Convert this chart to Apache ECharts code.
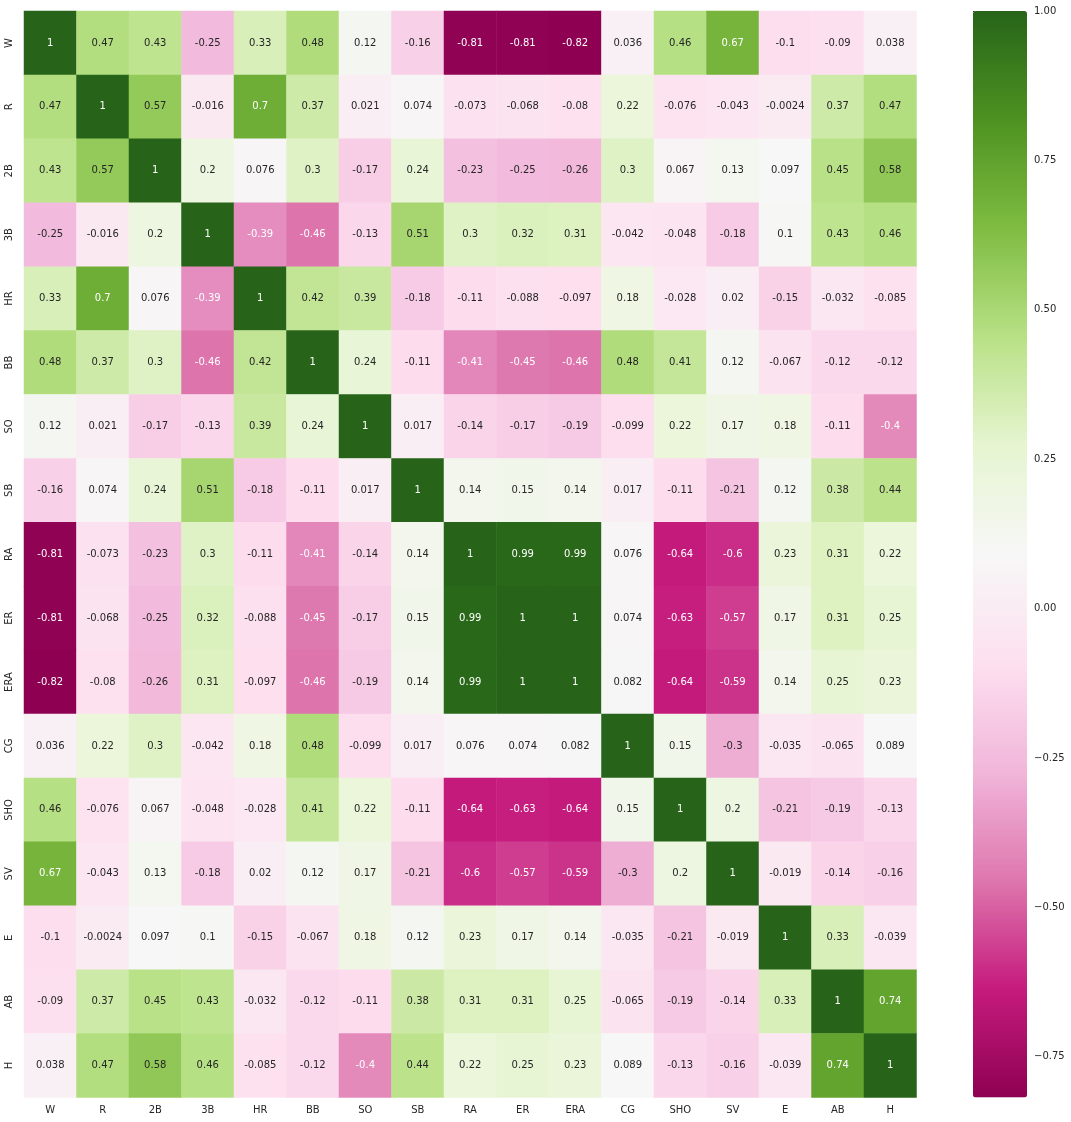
<!DOCTYPE html>
<html>
<head>
<meta charset="utf-8">
<script src="https://cdn.jsdelivr.net/npm/echarts@6/dist/echarts.min.js"></script>
<style>
html,body{margin:0;padding:0;background:#fff;}
#chart{width:1071px;height:1122px;}
</style>
</head>
<body>
<div id="chart"></div>
<script>
// ---- Data ----
var labels = ['W','R','2B','3B','HR','BB','SO','SB','RA','ER','ERA','CG','SHO','SV','E','AB','H'];
var rowW   = [1, 0.47, 0.43, -0.25, 0.33, 0.48, 0.12, -0.16, -0.81, -0.81, -0.82, 0.036, 0.46, 0.67, -0.1, -0.09, 0.038];
var rowR   = [0.47, 1, 0.57, -0.016, 0.7, 0.37, 0.021, 0.074, -0.073, -0.068, -0.08, 0.22, -0.076, -0.043, -0.0024, 0.37, 0.47];
var row2B  = [0.43, 0.57, 1, 0.2, 0.076, 0.3, -0.17, 0.24, -0.23, -0.25, -0.26, 0.3, 0.067, 0.13, 0.097, 0.45, 0.58];
var row3B  = [-0.25, -0.016, 0.2, 1, -0.39, -0.46, -0.13, 0.51, 0.3, 0.32, 0.31, -0.042, -0.048, -0.18, 0.1, 0.43, 0.46];
var rowHR  = [0.33, 0.7, 0.076, -0.39, 1, 0.42, 0.39, -0.18, -0.11, -0.088, -0.097, 0.18, -0.028, 0.02, -0.15, -0.032, -0.085];
var rowBB  = [0.48, 0.37, 0.3, -0.46, 0.42, 1, 0.24, -0.11, -0.41, -0.45, -0.46, 0.48, 0.41, 0.12, -0.067, -0.12, -0.12];
var rowSO  = [0.12, 0.021, -0.17, -0.13, 0.39, 0.24, 1, 0.017, -0.14, -0.17, -0.19, -0.099, 0.22, 0.17, 0.18, -0.11, -0.4];
var rowSB  = [-0.16, 0.074, 0.24, 0.51, -0.18, -0.11, 0.017, 1, 0.14, 0.15, 0.14, 0.017, -0.11, -0.21, 0.12, 0.38, 0.44];
var rowRA  = [-0.81, -0.073, -0.23, 0.3, -0.11, -0.41, -0.14, 0.14, 1, 0.99, 0.99, 0.076, -0.64, -0.6, 0.23, 0.31, 0.22];
var rowER  = [-0.81, -0.068, -0.25, 0.32, -0.088, -0.45, -0.17, 0.15, 0.99, 1, 1, 0.074, -0.63, -0.57, 0.17, 0.31, 0.25];
var rowERA = [-0.82, -0.08, -0.26, 0.31, -0.097, -0.46, -0.19, 0.14, 0.99, 1, 1, 0.082, -0.64, -0.59, 0.14, 0.25, 0.23];
var rowCG  = [0.036, 0.22, 0.3, -0.042, 0.18, 0.48, -0.099, 0.017, 0.076, 0.074, 0.082, 1, 0.15, -0.3, -0.035, -0.065, 0.089];
var rowSHO = [0.46, -0.076, 0.067, -0.048, -0.028, 0.41, 0.22, -0.11, -0.64, -0.63, -0.64, 0.15, 1, 0.2, -0.21, -0.19, -0.13];
var rowSV  = [0.67, -0.043, 0.13, -0.18, 0.02, 0.12, 0.17, -0.21, -0.6, -0.57, -0.59, -0.3, 0.2, 1, -0.019, -0.14, -0.16];
var rowE   = [-0.1, -0.0024, 0.097, 0.1, -0.15, -0.067, 0.18, 0.12, 0.23, 0.17, 0.14, -0.035, -0.21, -0.019, 1, 0.33, -0.039];
var rowAB  = [-0.09, 0.37, 0.45, 0.43, -0.032, -0.12, -0.11, 0.38, 0.31, 0.31, 0.25, -0.065, -0.19, -0.14, 0.33, 1, 0.74];
var rowH   = [0.038, 0.47, 0.58, 0.46, -0.085, -0.12, -0.4, 0.44, 0.22, 0.25, 0.23, 0.089, -0.13, -0.16, -0.039, 0.74, 1];
var colorbarTicks = [-0.75, -0.5, -0.25, 0, 0.25, 0.5, 0.75, 1];
var vMin = -0.818, vMax = 1;

var rows = [rowW,rowR,row2B,row3B,rowHR,rowBB,rowSO,rowSB,rowRA,rowER,rowERA,rowCG,rowSHO,rowSV,rowE,rowAB,rowH];

// PiYG colormap
var piyg = ['#8e0152','#c51b7d','#de77ae','#f1b6da','#fde0ef','#f7f7f7','#e6f5d0','#b8e186','#7fbc41','#4d9221','#276419'];
function hex2rgb(h){return [parseInt(h.substr(1,2),16),parseInt(h.substr(3,2),16),parseInt(h.substr(5,2),16)];}
function cmap(v){
  var t = (v - vMin)/(vMax - vMin); t = Math.max(0, Math.min(1, t));
  var p = t*(piyg.length-1), i = Math.min(Math.floor(p), piyg.length-2), f = p - i;
  var a = hex2rgb(piyg[i]), b = hex2rgb(piyg[i+1]);
  return [0,1,2].map(function(k){return a[k]+(b[k]-a[k])*f;});
}
function lum(rgb){
  var c = rgb.map(function(x){x/=255; return x<=0.03928? x/12.92 : Math.pow((x+0.055)/1.055,2.4);});
  return 0.2126*c[0]+0.7152*c[1]+0.0722*c[2];
}
function fmt(v){return String(Number(v.toPrecision(2)));}

var data = [];
rows.forEach(function(r, yi){
  r.forEach(function(v, xi){
    var tc = lum(cmap(v)) > 0.408 ? '#262626' : '#ffffff';
    data.push({value:[xi, yi, v], label:{color: tc}});
  });
});

var font = 'DejaVu Sans';
var chart = echarts.init(document.getElementById('chart'), null, {renderer:'canvas'});
chart.setOption({
  backgroundColor:'#ffffff',
  animation:false,
  textStyle:{fontFamily:font},
  grid:[
    {left:24, top:11, width:892.5, height:1086.5, containLabel:false},
    {left:973, top:11, width:54, height:1086.5, containLabel:false}
  ],
  xAxis:[
    {type:'category', data:labels, gridIndex:0, position:'bottom',
     axisLine:{show:false}, axisTick:{show:false}, splitLine:{show:false}, splitArea:{show:false},
     axisLabel:{fontSize:10, color:'#262626', fontFamily:font, margin:8, interval:0}},
    {type:'value', gridIndex:1, show:false, min:0, max:1}
  ],
  yAxis:[
    {type:'category', data:labels, gridIndex:0, inverse:true,
     axisLine:{show:false}, axisTick:{show:false}, splitLine:{show:false}, splitArea:{show:false},
     axisLabel:{fontSize:10, color:'#262626', fontFamily:font, rotate:90, margin:10, interval:0}},
    {type:'value', gridIndex:1, min:vMin, max:vMax, position:'right',
     axisLine:{show:false}, splitLine:{show:false},
     axisTick:{show:true, length:4, customValues:colorbarTicks, lineStyle:{color:'#262626', width:1}},
     axisLabel:{fontSize:10, color:'#262626', fontFamily:font, margin:7, customValues:colorbarTicks,
       formatter:function(v){return v.toFixed(2).replace('-', '\u2212');}}}
  ],
  visualMap:{
    type:'continuous', min:vMin, max:vMax, calculable:false, seriesIndex:0,
    inRange:{color:piyg}, orient:'vertical', left:973, top:11, itemWidth:54, itemHeight:1086.5,
    padding:0, text:null, showLabel:false, hoverLink:false
  },
  series:[
    {type:'heatmap', xAxisIndex:0, yAxisIndex:0, data:data,
     label:{show:true, fontSize:10, fontFamily:font, formatter:function(p){return fmt(p.value[2]);}},
     itemStyle:{borderWidth:0},
     emphasis:{disabled:true}},
    {type:'line', xAxisIndex:1, yAxisIndex:1, data:[], silent:true}
  ]
});
</script>
</body>
</html>
